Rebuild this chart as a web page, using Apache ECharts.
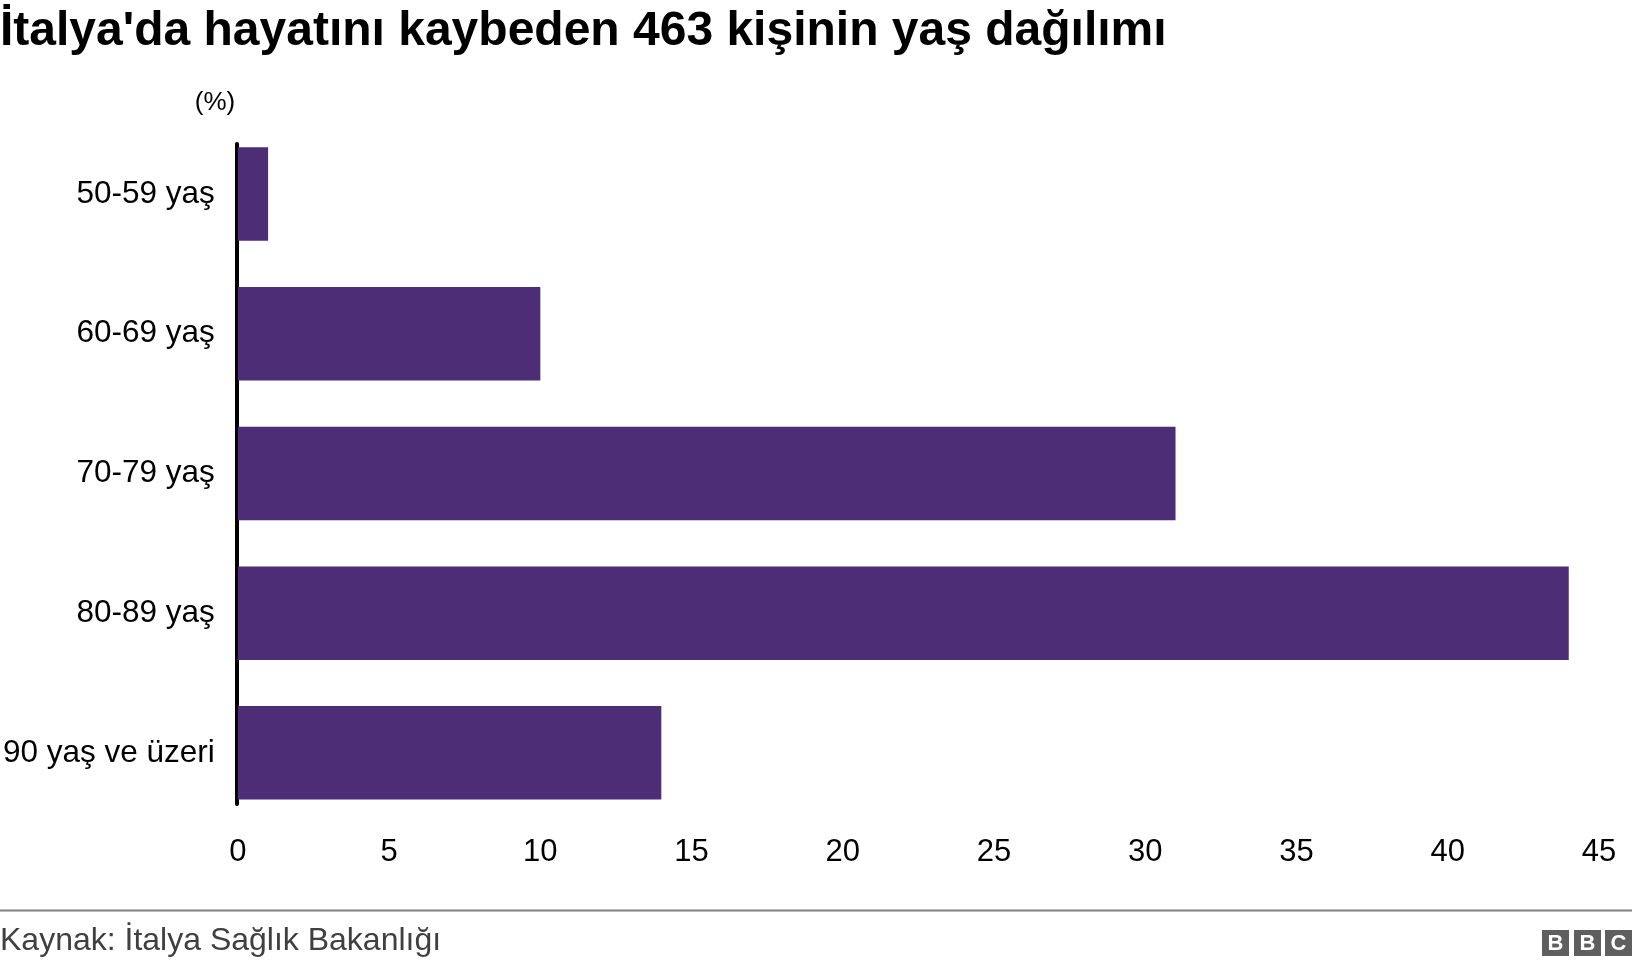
<!DOCTYPE html>
<html>
<head>
<meta charset="utf-8">
<script src="https://cdn.jsdelivr.net/npm/echarts@6/dist/echarts.min.js"></script>
<style>
html,body{margin:0;padding:0;background:#fff;}
#chart{width:1632px;height:966px;}
</style>
</head>
<body>
<div id="chart"></div>
<script>
const titleText = "İtalya'da hayatını kaybeden 463 kişinin yaş dağılımı";
const unitLabel = "(%)";
const sourceText = "Kaynak: İtalya Sağlık Bakanlığı";
const categories = ["50-59 yaş", "60-69 yaş", "70-79 yaş", "80-89 yaş", "90 yaş ve üzeri"];
const values = [1.0, 10.0, 31.0, 44.0, 14.0];
const xTickMin = 0, xTickMax = 45, xTickStep = 5;

const FONT = "'Liberation Sans', Arial, Helvetica, sans-serif";
const BAR = '#4d2d75';

const chart = echarts.init(document.getElementById('chart'), null, {renderer: 'canvas'});
chart.setOption({
  backgroundColor: '#fff',
  animation: false,
  title: {
    text: titleText,
    left: 0, top: 8, padding: 0,
    textStyle: {fontFamily: FONT, fontSize: 48, fontWeight: 'bold', color: '#000'}
  },
  grid: [
    {left: 237, right: 33, top: 124.2, height: 698.5, containLabel: false},
    {left: 237, right: 33, top: 144, height: 660, containLabel: false}
  ],
  xAxis: [
    {
      type: 'value', gridIndex: 0, min: xTickMin, max: xTickMax, interval: xTickStep,
      axisLine: {show: false}, axisTick: {show: false}, splitLine: {show: false},
      axisLabel: {fontFamily: FONT, fontSize: 31, color: '#000', margin: 14}
    },
    {
      type: 'value', gridIndex: 1, min: 0, max: 1, show: false
    }
  ],
  yAxis: [
    {
      type: 'category', gridIndex: 0, data: categories, inverse: true,
      axisLine: {show: false}, axisTick: {show: false}, splitLine: {show: false},
      axisLabel: {fontFamily: FONT, fontSize: 31.5, color: '#000', margin: 23, padding: [3, 0, 0, 0]}
    },
    {
      type: 'category', gridIndex: 1, data: categories, inverse: true,
      axisLine: {show: true, lineStyle: {color: '#000', width: 4}},
      axisTick: {show: false}, axisLabel: {show: false}, splitLine: {show: false}
    }
  ],
  series: [{
    type: 'bar', xAxisIndex: 0, yAxisIndex: 0,
    data: values, barCategoryGap: '33.1%',
    itemStyle: {color: BAR},
    silent: true
  }],
  graphic: [
    {type: 'text', x: 215, y: 103, silent: true,
     style: {text: unitLabel, font: '26px ' + FONT, fill: '#000', align: 'center', verticalAlign: 'middle', textAlign: 'center', textVerticalAlign: 'middle'}},
    {type: 'line', silent: true,
     shape: {x1: 0, y1: 910.5, x2: 1632, y2: 910.5},
     style: {stroke: '#7f7f7f', lineWidth: 2}},
    {type: 'text', x: 0, y: 941, silent: true,
     style: {text: sourceText, font: '32px ' + FONT, fill: '#404040', align: 'left', verticalAlign: 'middle', textAlign: 'left', textVerticalAlign: 'middle'}},
    {type: 'group', x: 1542, y: 930, silent: true, children: [
      {type: 'rect', shape: {x: 0, y: 0, width: 27, height: 26}, style: {fill: '#5f5f5f'}},
      {type: 'text', x: 13.5, y: 13.5, style: {text: 'B', font: 'bold 22px ' + FONT, fill: '#fff', align: 'center', verticalAlign: 'middle', textAlign: 'center', textVerticalAlign: 'middle'}},
      {type: 'rect', shape: {x: 32, y: 0, width: 27, height: 26}, style: {fill: '#5f5f5f'}},
      {type: 'text', x: 45.5, y: 13.5, style: {text: 'B', font: 'bold 22px ' + FONT, fill: '#fff', align: 'center', verticalAlign: 'middle', textAlign: 'center', textVerticalAlign: 'middle'}},
      {type: 'rect', shape: {x: 63, y: 0, width: 27, height: 26}, style: {fill: '#5f5f5f'}},
      {type: 'text', x: 76.5, y: 13.5, style: {text: 'C', font: 'bold 22px ' + FONT, fill: '#fff', align: 'center', verticalAlign: 'middle', textAlign: 'center', textVerticalAlign: 'middle'}}
    ]}
  ]
});
</script>
</body>
</html>
